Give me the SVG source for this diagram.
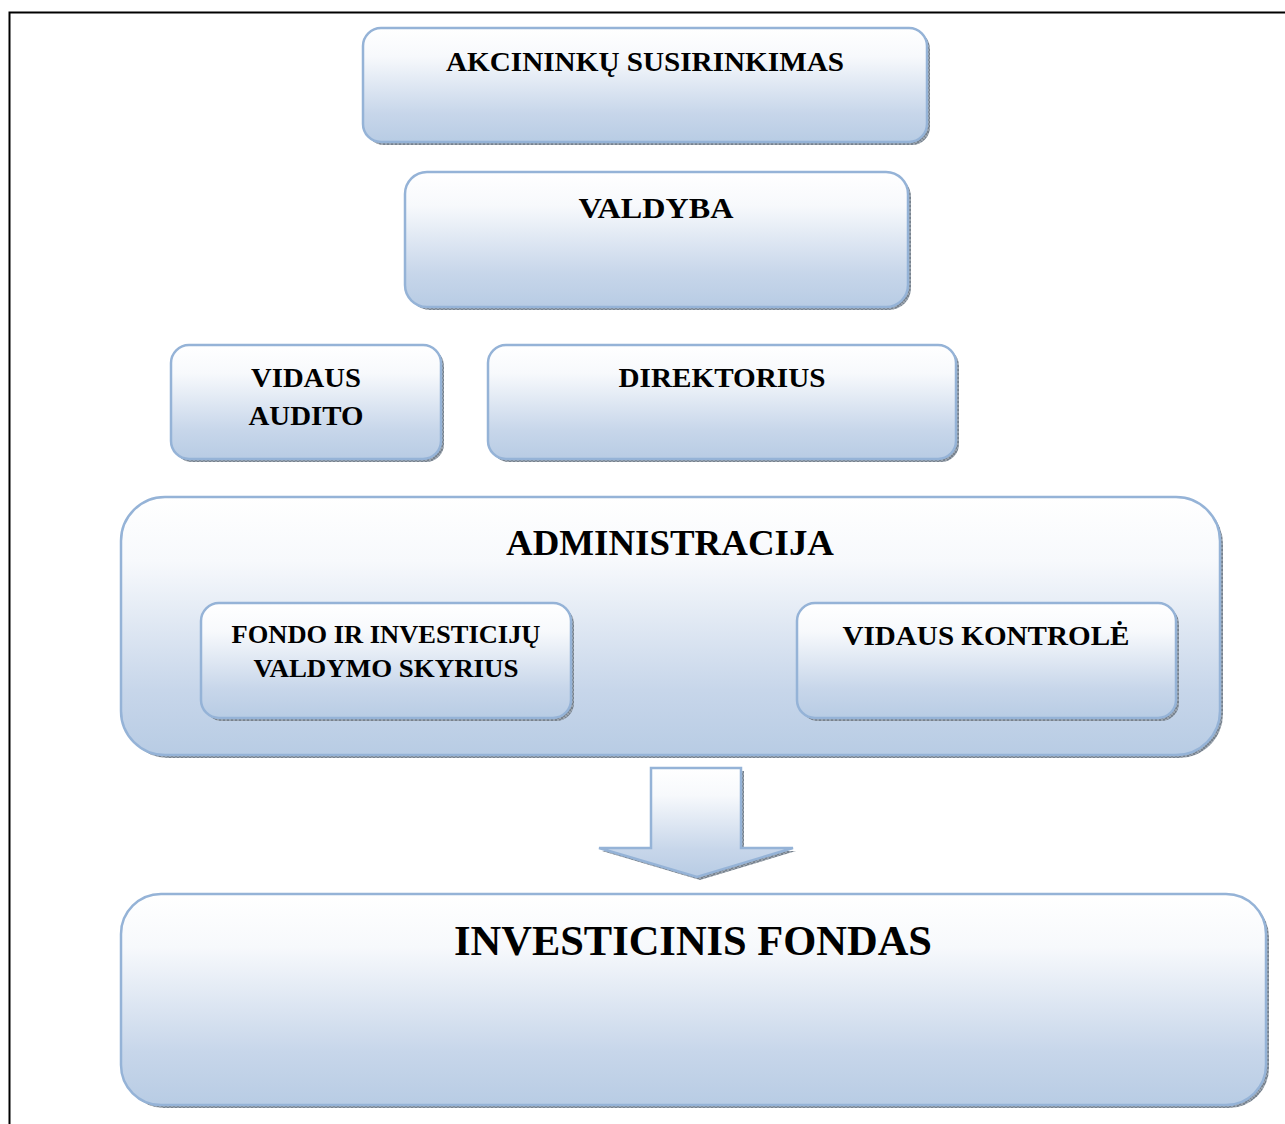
<svg xmlns="http://www.w3.org/2000/svg" width="1285" height="1124" viewBox="0 0 1285 1124">
<defs>
<linearGradient id="g" x1="0" y1="0" x2="0" y2="1">
<stop offset="0" stop-color="#ffffff"/>
<stop offset="0.25" stop-color="#f7f9fc"/>
<stop offset="0.75" stop-color="#c7d6ea"/>
<stop offset="1" stop-color="#b8cce4"/>
</linearGradient>
<pattern id="hatch" width="4" height="4" patternUnits="userSpaceOnUse">
<rect width="4" height="4" fill="#9aa3ad"/>
<path d="M0,0 L4,4 M4,0 L0,4" stroke="#6f7a86" stroke-width="0.8"/>
</pattern>
<style>
.box{fill:url(#g);stroke:#95b3d7;stroke-width:2.5}
.sh{fill:url(#hatch)}
.t{font-family:"Liberation Serif","Times New Roman",serif;font-weight:bold;fill:#000;text-anchor:middle}
</style>
</defs>
<rect width="1285" height="1124" fill="#ffffff"/>
<path d="M9.5,1124 V12.5 H1285" fill="none" stroke="#000" stroke-width="2"/>

<g id="akcininku">
<rect class="sh" x="366" y="31" width="564" height="114" rx="18"/>
<rect class="box" x="363" y="28" width="564" height="114" rx="18"/>
<text class="t" x="645" y="71" font-size="28" textLength="398" lengthAdjust="spacingAndGlyphs">AKCININKŲ SUSIRINKIMAS</text>
</g>

<g id="valdyba">
<rect class="sh" x="408" y="175" width="503" height="135" rx="22"/>
<rect class="box" x="405" y="172" width="503" height="135" rx="22"/>
<text class="t" x="656" y="218" font-size="29" textLength="155" lengthAdjust="spacingAndGlyphs">VALDYBA</text>
</g>

<g id="vidaus-audito">
<rect class="sh" x="174" y="348" width="270" height="114" rx="18"/>
<rect class="box" x="171" y="345" width="270" height="114" rx="18"/>
<text class="t" x="306" y="387" font-size="28" textLength="110" lengthAdjust="spacingAndGlyphs">VIDAUS</text>
<text class="t" x="306" y="425" font-size="28" textLength="115" lengthAdjust="spacingAndGlyphs">AUDITO</text>
</g>

<g id="direktorius">
<rect class="sh" x="491" y="348" width="468" height="114" rx="18"/>
<rect class="box" x="488" y="345" width="468" height="114" rx="18"/>
<text class="t" x="722" y="387" font-size="28" textLength="207" lengthAdjust="spacingAndGlyphs">DIREKTORIUS</text>
</g>

<g id="administracija">
<rect class="sh" x="124" y="500" width="1099" height="258" rx="44"/>
<rect class="box" x="121" y="497" width="1099" height="258" rx="44"/>
<text class="t" x="670" y="555" font-size="36" textLength="328" lengthAdjust="spacingAndGlyphs">ADMINISTRACIJA</text>
</g>

<g id="fondo-skyrius">
<rect class="sh" x="204" y="606" width="370" height="115" rx="18"/>
<rect class="box" x="201" y="603" width="370" height="115" rx="18"/>
<text class="t" x="386" y="643" font-size="26" textLength="309" lengthAdjust="spacingAndGlyphs">FONDO IR INVESTICIJŲ</text>
<text class="t" x="386" y="677" font-size="26" textLength="265" lengthAdjust="spacingAndGlyphs">VALDYMO SKYRIUS</text>
</g>

<g id="vidaus-kontrole">
<rect class="sh" x="800" y="606" width="379" height="115" rx="18"/>
<rect class="box" x="797" y="603" width="379" height="115" rx="18"/>
<text class="t" x="986" y="645" font-size="28" textLength="287" lengthAdjust="spacingAndGlyphs">VIDAUS KONTROLĖ</text>
</g>

<g id="connectors">
<path class="sh" d="M654,771 H744 V851 H796 L700,880 L602,851 H654 Z"/>
<path class="box" d="M651,768 H741 V848 H793 L697,877 L599,848 H651 Z"/>
</g>

<g id="investicinis-fondas">
<rect class="sh" x="124" y="897" width="1145" height="211" rx="40"/>
<rect class="box" x="121" y="894" width="1145" height="211" rx="40"/>
<text class="t" x="693" y="955" font-size="43" textLength="478" lengthAdjust="spacingAndGlyphs">INVESTICINIS FONDAS</text>
</g>
</svg>
